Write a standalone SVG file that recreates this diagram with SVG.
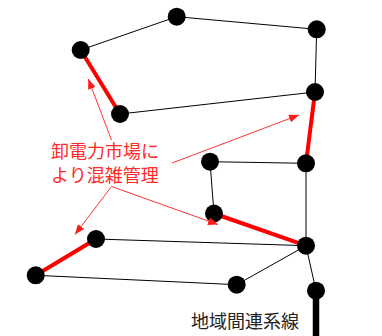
<svg xmlns="http://www.w3.org/2000/svg" width="382" height="336" viewBox="0 0 382 336">
<defs>
<marker id="ah" viewBox="0 0 10 8" refX="10" refY="4" markerWidth="10" markerHeight="8" markerUnits="userSpaceOnUse" orient="auto">
<path d="M0,0 L10,4 L0,8 Z" fill="#ff1a1a"/>
</marker>
<style>
.e{stroke:#000;stroke-width:1;fill:none}
.r{stroke:#ff0000;stroke-width:4;fill:none}
.a{stroke:#ff3333;stroke-width:1;fill:none;marker-end:url(#ah)}
.n{fill:#000}
.t{font-family:"Noto Sans CJK JP","Noto Sans CJK SC",sans-serif;font-size:18px}
</style>
</defs>
<rect width="382" height="336" fill="#fff"/>
<g id="connectors">
<line class="e" x1="80.7" y1="50" x2="176.7" y2="16.7"/>
<line class="e" x1="176.7" y1="16.7" x2="316.7" y2="29.3"/>
<line class="e" x1="316.7" y1="29.3" x2="315" y2="92"/>
<line class="e" x1="315" y1="92" x2="120" y2="114"/>
<line class="r" x1="80.7" y1="50" x2="120" y2="114"/>
<line class="r" x1="315" y1="92" x2="306" y2="163.3"/>
<line class="e" x1="306" y1="163.3" x2="210" y2="161.7"/>
<line class="e" x1="210" y1="161.7" x2="214" y2="213.5"/>
<line class="e" x1="306" y1="163.3" x2="306" y2="245.7"/>
<line class="r" x1="214" y1="213.5" x2="306" y2="245.7"/>
<line class="e" x1="306" y1="245.7" x2="96" y2="239"/>
<line class="r" x1="96" y1="239" x2="35.7" y2="275.3"/>
<line class="e" x1="35.7" y1="275.3" x2="236.7" y2="284.7"/>
<line class="e" x1="236.7" y1="284.7" x2="306" y2="245.7"/>
<line class="e" x1="306" y1="245.7" x2="316" y2="290.7"/>
<line x1="316" y1="290.7" x2="316" y2="336" stroke="#000" stroke-width="6.5"/>
</g>
<g id="nA"><circle class="n" cx="176.7" cy="16.7" r="9"/></g>
<g id="nB"><circle class="n" cx="316.7" cy="29.3" r="9"/></g>
<g id="nC"><circle class="n" cx="80.7" cy="50" r="9"/></g>
<g id="nD"><circle class="n" cx="120" cy="114" r="9"/></g>
<g id="nE"><circle class="n" cx="315" cy="92" r="9"/></g>
<g id="nF"><circle class="n" cx="210" cy="161.7" r="9"/></g>
<g id="nG"><circle class="n" cx="306" cy="163.3" r="9"/></g>
<g id="nH"><circle class="n" cx="214" cy="213.5" r="9"/></g>
<g id="nI"><circle class="n" cx="306" cy="245.7" r="9"/></g>
<g id="nJ"><circle class="n" cx="96" cy="239" r="9"/></g>
<g id="nK"><circle class="n" cx="35.7" cy="275.3" r="9"/></g>
<g id="nL"><circle class="n" cx="236.7" cy="284.7" r="9"/></g>
<g id="nM"><circle class="n" cx="316" cy="290.7" r="9"/></g>
<g id="label-congestion">
<line class="a" x1="111.5" y1="140" x2="88.3" y2="79"/>
<line class="a" x1="172" y1="163" x2="299" y2="115"/>
<line class="a" x1="111.5" y1="186.5" x2="75" y2="234.5"/>
<line class="a" x1="111.5" y1="186.5" x2="218" y2="224.5"/>
<text class="t" fill="#ff2a2a" x="51" y="158">卸電力市場に</text>
<text class="t" fill="#ff2a2a" x="51" y="182">より混雑管理</text>
</g>
<g id="label-interconnect">
<text class="t" fill="#222" x="191" y="328" font-size="19">地域間連系線</text>
</g>
</svg>
